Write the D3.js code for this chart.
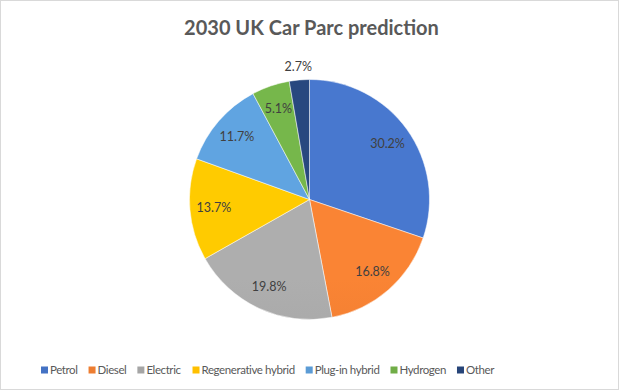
<!DOCTYPE html>
<html>
<head>
<meta charset="utf-8">
<script src="https://cdn.jsdelivr.net/npm/d3@7"></script>
<style>
  body { margin: 0; background: #fff; }
  svg { display: block; font-family: Lato, "Open Sans", sans-serif; }
</style>
</head>
<body>
<svg id="chart" width="619" height="390"></svg>
<script>
// Data
var categories = ["Petrol", "Diesel", "Electric", "Regenerative hybrid", "Plug-in hybrid", "Hydrogen", "Other"];
var shares = [30.2, 16.8, 19.8, 13.7, 11.7, 5.1, 2.7];
var colours = ["#4472C4", "#ED7D31", "#A5A5A5", "#FFC000", "#5B9BD5", "#70AD47", "#264478"];

var W = 619, H = 390;
var cx = 309.5, cy = 199.5, r = 120;

var svg = d3.select("#chart");

// outer frame
svg.append("rect")
	.attr("x", 0.5).attr("y", 0.5)
	.attr("width", W - 1).attr("height", H - 1)
	.attr("fill", "#fff")
	.attr("stroke", "#d9d9d9");

// title
svg.append("text")
	.attr("x", W / 2 + 2).attr("y", 35)
	.attr("text-anchor", "middle")
	.attr("font-size", 20)
	.attr("font-weight", "bold")
	.attr("fill", "#595959")
	.text("2030 UK Car Parc prediction");

// gradient per colour (lighter top, darker bottom)
var defs = svg.append("defs");
colours.forEach(function(c, i) {
	var g = defs.append("linearGradient")
		.attr("id", "grad" + i)
		.attr("gradientUnits", "userSpaceOnUse")
		.attr("x1", 0).attr("y1", cy - r)
		.attr("x2", 0).attr("y2", cy + r);
	g.append("stop").attr("offset", "0%").attr("stop-color", d3.color(c).brighter(0.15));
	g.append("stop").attr("offset", "100%").attr("stop-color", d3.color(c).darker(0.2));
});

var data = categories.map(function(name, i) {
	return { name: name, value: shares[i], idx: i };
});

var pie = d3.pie()
	.sort(null)
	.value(function(d) { return d.value; });

var arc = d3.arc().innerRadius(0).outerRadius(r);
var labelArc = d3.arc().innerRadius(96).outerRadius(96);
var outerLabelArc = d3.arc().innerRadius(133).outerRadius(133);

var g = svg.append("g").attr("transform", "translate(" + cx + "," + cy + ")");
var arcs = pie(data);

g.selectAll("path")
	.data(arcs)
	.enter().append("path")
	.attr("d", arc)
	.attr("fill", function(d) { return "url(#grad" + d.data.idx + ")"; })
	.attr("stroke", "#fff")
	.attr("stroke-width", 0.5);

g.selectAll("text.lbl")
	.data(arcs)
	.enter().append("text")
	.attr("class", "lbl")
	.attr("transform", function(d) {
		var small = d.data.value < 4;
		var p = (small ? outerLabelArc : labelArc).centroid(d);
		return "translate(" + p[0] + "," + p[1] + ")";
	})
	.attr("dy", "0.35em")
	.attr("text-anchor", "middle")
	.attr("font-size", 12.5)
	.attr("fill", "#404040")
	.text(function(d) { return d.data.value.toFixed(1) + "%"; });

// legend
var legend = svg.append("g").attr("transform", "translate(0,370)");
var lx = 41;
var items = legend.selectAll("g.item")
	.data(data)
	.enter().append("g")
	.attr("class", "item");

items.append("rect")
	.attr("y", -3.5)
	.attr("width", 7).attr("height", 7)
	.attr("fill", function(d) { return colours[d.idx]; });

items.append("text")
	.attr("x", 9)
	.attr("dy", "0.35em")
	.attr("font-size", 11.5)
	.attr("letter-spacing", -0.4)
	.attr("fill", "#595959")
	.text(function(d) { return d.name; });

items.each(function() {
	var w = this.getBBox().width;
	d3.select(this).attr("transform", "translate(" + lx + ",0)");
	lx += w + 11;
});
</script>
</body>
</html>
